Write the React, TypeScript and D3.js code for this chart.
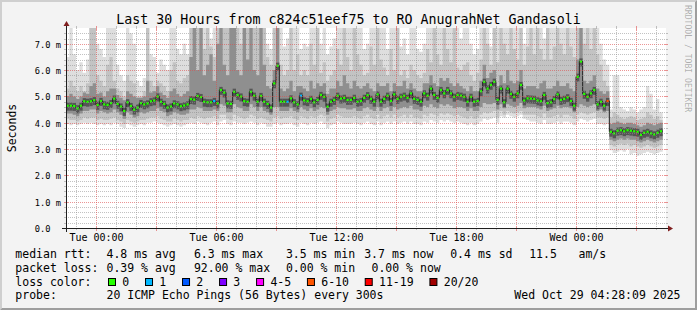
import React from 'react';
import * as d3 from 'd3';

// ---------- data ----------
const START = Date.UTC(2025, 9, 27, 22, 30); // Mon 22:30
const END = START + 30 * 3600e3; // Wed 04:30
const STEP_MS = 600e3; // 10 minutes per sample
const Y_MAX = 7.6; // ms

// median rtt per step (ms)
const medianRtt = [
  4.65, 4.65, 4.64, 4.55, 4.65, 4.82, 4.80, 4.82, 4.86, 4.68,
  4.83, 4.70, 4.68, 4.75, 4.92, 4.72, 4.62, 4.45, 4.78, 4.64,
  4.50, 4.58, 4.75, 4.70, 4.74, 4.82, 4.85, 5.00, 4.80, 4.72,
  4.58, 4.62, 4.74, 4.70, 4.63, 4.66, 4.70, 4.90, 4.88, 5.02,
  4.98, 4.80, 4.78, 4.78, 4.83, 4.74, 5.25, 5.15, 4.74, 4.72,
  5.18, 5.06, 5.00, 4.82, 4.80, 5.18, 5.03, 4.80, 5.02, 4.80,
  4.72, 4.58, 5.50, 6.17, 4.80, 4.80, 4.80, 4.93, 4.78, 4.70,
  5.03, 4.85, 4.82, 4.91, 4.78, 4.87, 5.06, 4.99, 4.61, 4.80,
  4.87, 5.03, 4.92, 4.95, 4.87, 4.87, 4.95, 4.80, 4.83, 4.95,
  5.05, 4.91, 4.80, 5.08, 4.80, 4.91, 5.03, 4.83, 5.08, 4.91,
  4.99, 5.03, 4.95, 5.12, 4.91, 4.87, 4.80, 5.12, 5.03, 5.30,
  5.06, 4.95, 5.25, 5.12, 5.25, 5.12, 4.99, 5.06, 5.03, 4.99,
  4.80, 4.99, 4.80, 4.83, 5.20, 5.56, 5.30, 5.44, 5.56, 4.87,
  5.30, 4.78, 5.30, 5.10, 4.99, 5.12, 5.44, 4.85, 4.93, 4.92,
  4.91, 4.85, 4.82, 5.06, 4.75, 4.78, 4.90, 5.08, 4.87, 4.91,
  4.97, 4.83, 4.65, 5.75, 6.33, 5.10, 4.99, 5.12, 5.25, 4.70,
  4.80, 4.65, 4.83, 3.66, 3.60, 3.70, 3.72, 3.68, 3.72, 3.70,
  3.68, 3.66, 3.54, 3.62, 3.66, 3.60, 3.56, 3.62, 3.68,
];

// slowest ping per step (top of the lightest smoke)
const smokeMax = [
  6.5, 7.8, 6.6, 6.0, 6.3, 5.9, 6.4, 7.8, 7.8, 7.0,
  6.8, 6.5, 7.8, 7.8, 7.6, 6.2, 5.8, 5.6, 7.8, 7.4,
  7.0, 5.6, 5.4, 5.7, 7.8, 6.6, 6.5, 5.9, 6.4, 6.2,
  6.0, 7.8, 7.8, 6.8, 6.6, 7.0, 6.6, 7.8, 7.8, 7.8,
  7.8, 7.8, 7.8, 7.2, 7.8, 7.8, 7.8, 7.8, 7.8, 7.8,
  7.8, 7.8, 7.8, 7.8, 7.8, 7.8, 7.8, 7.8, 7.8, 7.8,
  7.0, 6.8, 7.8, 7.8, 7.8, 6.9, 7.2, 7.8, 7.8, 7.8,
  6.8, 7.0, 6.9, 7.8, 7.8, 7.8, 7.0, 7.8, 6.6, 6.9,
  7.2, 7.8, 7.8, 7.8, 7.8, 7.8, 7.8, 7.8, 7.8, 6.8,
  7.0, 7.8, 7.8, 7.8, 7.8, 7.8, 6.8, 7.8, 7.8, 7.8,
  6.9, 7.2, 6.6, 7.8, 7.8, 6.8, 6.7, 7.0, 7.8, 7.8,
  7.8, 7.8, 7.8, 7.8, 7.8, 7.8, 7.8, 7.8, 7.2, 7.8,
  7.8, 7.0, 6.6, 6.8, 7.8, 7.8, 7.8, 6.9, 7.8, 7.8,
  7.8, 7.8, 7.8, 7.8, 7.8, 7.8, 7.8, 7.0, 7.8, 7.8,
  7.8, 7.8, 7.8, 7.2, 7.8, 7.8, 7.8, 7.8, 7.8, 7.8,
  7.8, 7.8, 7.8, 7.8, 7.8, 7.8, 7.8, 7.8, 7.8, 7.8,
  7.0, 6.4, 6.2, 4.5, 5.8, 5.8, 4.6, 4.5, 4.45, 4.6,
  4.5, 4.4, 4.5, 4.6, 5.4, 5.1, 4.5, 4.9, 4.4,
];

// upper edge of the mid-grey smoke
const smokeHi = [
  5.3, 5.6, 5.4, 5.2, 5.4, 5.2, 5.5, 7.8, 7.8, 5.8,
  5.6, 5.4, 6.2, 6.5, 5.6, 5.3, 5.2, 5.0, 5.8, 5.6,
  5.5, 5.0, 5.0, 5.2, 7.8, 5.6, 5.4, 5.6, 5.5, 5.4,
  5.2, 6.0, 6.3, 5.6, 5.5, 5.7, 5.8, 7.8, 7.8, 7.8,
  7.8, 6.8, 7.8, 6.9, 6.5, 7.8, 7.8, 7.8, 7.8, 7.8,
  7.8, 7.8, 7.0, 7.8, 7.8, 7.8, 7.8, 7.8, 7.8, 7.8,
  6.5, 6.2, 7.8, 7.8, 6.2, 5.8, 6.0, 7.8, 6.0, 6.6,
  5.8, 6.0, 5.8, 7.0, 6.2, 7.8, 5.9, 6.3, 5.6, 5.8,
  6.0, 6.8, 6.2, 7.8, 6.5, 6.0, 7.8, 6.6, 6.2, 5.8,
  5.9, 6.9, 6.2, 7.8, 6.4, 6.1, 5.8, 6.8, 6.0, 7.8,
  5.8, 6.0, 5.7, 6.2, 6.0, 5.8, 5.7, 5.9, 6.8, 6.3,
  7.8, 6.6, 6.2, 7.8, 6.8, 6.3, 7.8, 6.1, 6.0, 6.2,
  6.3, 5.8, 5.6, 5.9, 6.4, 7.8, 7.0, 6.2, 7.8, 6.3,
  7.8, 7.0, 6.6, 7.8, 6.8, 6.4, 7.8, 6.2, 6.9, 7.8,
  6.6, 7.8, 6.8, 6.4, 7.8, 6.4, 6.9, 7.8, 7.0, 6.6,
  7.8, 6.9, 6.5, 7.8, 7.8, 7.0, 7.8, 6.8, 7.8, 6.6,
  6.2, 5.6, 5.4, 4.2, 4.4, 4.3, 4.2, 4.15, 4.2, 4.25,
  4.2, 4.1, 4.15, 4.2, 4.4, 4.3, 4.15, 4.25, 4.1,
];

// upper edge of the dark core
const coreHi = [
  5.0, 5.1, 5.0, 4.9, 5.0, 5.15, 5.1, 5.4, 5.5, 5.1,
  5.15, 5.0, 5.2, 5.3, 5.3, 5.05, 4.95, 4.85, 5.2, 5.1,
  5.0, 4.95, 4.95, 5.0, 5.6, 5.15, 5.2, 5.4, 5.15, 5.05,
  4.95, 5.2, 5.3, 5.1, 5.0, 5.1, 5.2, 6.5, 7.8, 6.0,
  7.8, 5.8, 6.2, 6.6, 5.6, 7.0, 7.8, 6.2, 5.8, 7.8,
  7.8, 6.0, 5.8, 7.8, 6.4, 7.8, 6.0, 5.8, 7.8, 6.2,
  5.4, 5.3, 6.0, 7.8, 5.3, 5.2, 5.3, 5.6, 5.2, 5.4,
  5.4, 5.3, 5.2, 5.6, 5.3, 5.5, 5.4, 5.5, 5.1, 5.3,
  5.3, 5.6, 5.4, 5.8, 5.5, 5.3, 5.6, 5.4, 5.3, 5.4,
  5.5, 5.3, 5.2, 5.5, 5.4, 5.4, 5.5, 5.2, 5.5, 5.4,
  5.4, 5.6, 5.3, 5.5, 5.3, 5.2, 5.2, 5.5, 5.5, 5.8,
  5.5, 5.4, 5.7, 5.6, 5.7, 5.5, 5.4, 5.5, 5.4, 5.3,
  5.2, 5.4, 5.2, 5.2, 5.6, 6.2, 5.7, 5.9, 6.0, 5.4,
  5.8, 5.5, 6.0, 5.6, 5.5, 5.6, 6.0, 5.3, 5.4, 5.4,
  5.4, 5.3, 5.5, 5.6, 5.3, 5.3, 5.4, 5.6, 5.4, 5.4,
  5.5, 5.3, 5.2, 6.4, 7.8, 5.6, 5.5, 5.6, 5.8, 5.3,
  5.2, 5.1, 5.2, 3.95, 4.0, 4.05, 4.0, 3.95, 4.0, 4.0,
  3.95, 3.9, 3.85, 3.9, 4.0, 3.95, 3.9, 3.95, 4.0,
];

// lower edge of the dark core
const coreLo = [
  4.35, 4.35, 4.3, 4.25, 4.35, 4.45, 4.45, 4.5, 4.5, 4.35,
  4.45, 4.4, 4.35, 4.4, 4.5, 4.4, 4.3, 4.15, 4.4, 4.3,
  4.2, 4.25, 4.4, 4.35, 4.4, 4.45, 4.45, 4.55, 4.45, 4.4,
  4.25, 4.3, 4.4, 4.35, 4.3, 4.3, 4.35, 4.5, 4.5, 4.6,
  4.55, 4.45, 4.45, 4.45, 4.5, 4.45, 4.7, 4.65, 4.4, 4.4,
  4.7, 4.6, 4.55, 4.45, 4.45, 4.7, 4.6, 4.45, 4.6, 4.45,
  4.4, 4.3, 4.6, 4.6, 4.45, 4.45, 4.45, 4.55, 4.45, 4.4,
  4.6, 4.5, 4.45, 4.55, 4.45, 4.5, 4.6, 4.55, 4.3, 4.45,
  4.5, 4.6, 4.55, 4.55, 4.5, 4.5, 4.55, 4.45, 4.45, 4.55,
  4.6, 4.5, 4.45, 4.6, 4.45, 4.55, 4.6, 4.45, 4.6, 4.5,
  4.55, 4.6, 4.55, 4.65, 4.5, 4.5, 4.45, 4.65, 4.6, 4.7,
  4.6, 4.55, 4.7, 4.65, 4.7, 4.65, 4.55, 4.6, 4.6, 4.55,
  4.45, 4.55, 4.45, 4.45, 4.6, 4.75, 4.7, 4.7, 4.75, 4.5,
  4.7, 4.55, 4.7, 4.65, 4.6, 4.65, 4.75, 4.55, 4.6, 4.6,
  4.6, 4.55, 4.5, 4.65, 4.45, 4.5, 4.55, 4.65, 4.55, 4.6,
  4.6, 4.55, 4.4, 4.6, 4.7, 4.65, 4.6, 4.65, 4.7, 4.45,
  4.5, 4.4, 4.45, 3.35, 3.3, 3.35, 3.4, 3.35, 3.4, 3.35,
  3.35, 3.3, 3.25, 3.3, 3.35, 3.3, 3.25, 3.3, 3.35,
];

// lower edge of the mid-grey smoke
const smokeLo = [
  4.15, 4.1, 4.1, 4.05, 4.1, 4.2, 4.15, 4.2, 4.2, 4.1,
  4.15, 4.1, 4.1, 4.15, 4.2, 4.1, 4.05, 3.95, 4.1, 4.05,
  4.0, 4.05, 4.1, 4.1, 4.15, 4.2, 4.2, 4.25, 4.15, 4.1,
  4.05, 4.05, 4.15, 4.1, 4.05, 4.1, 4.1, 4.2, 4.15, 4.25,
  4.2, 4.15, 4.2, 4.2, 4.25, 4.15, 4.3, 4.3, 4.15, 4.1,
  4.3, 4.25, 4.2, 4.15, 4.2, 4.3, 4.25, 4.15, 4.2, 4.15,
  4.1, 4.05, 4.2, 4.25, 4.15, 4.2, 4.2, 4.25, 4.15, 4.1,
  4.25, 4.2, 4.15, 4.25, 4.2, 4.25, 4.3, 4.25, 4.05, 4.15,
  4.2, 4.3, 4.25, 4.2, 4.2, 4.2, 4.25, 4.2, 4.15, 4.25,
  4.3, 4.2, 4.15, 4.3, 4.15, 4.25, 4.3, 4.2, 4.3, 4.2,
  4.25, 4.3, 4.2, 4.3, 4.2, 4.2, 4.15, 4.3, 4.25, 4.35,
  4.3, 4.25, 4.35, 4.3, 4.35, 4.3, 4.25, 4.3, 4.25, 4.2,
  4.15, 4.25, 4.15, 4.2, 4.3, 4.4, 4.35, 4.4, 4.45, 4.2,
  4.45, 4.3, 4.45, 4.4, 4.35, 4.4, 4.45, 4.3, 4.3, 4.3,
  4.3, 4.25, 4.2, 4.35, 4.2, 4.2, 4.25, 4.3, 4.2, 4.3,
  4.3, 4.25, 4.15, 4.3, 4.4, 4.35, 4.3, 4.35, 4.4, 4.2,
  4.2, 4.15, 4.2, 3.15, 3.1, 3.15, 3.2, 3.15, 3.2, 3.1,
  3.15, 3.1, 3.05, 3.1, 3.15, 3.1, 3.05, 3.1, 3.15,
];

// fastest ping per step (bottom of the lightest smoke)
const smokeMin = [
  3.95, 3.9, 3.95, 3.9, 3.95, 4.0, 3.95, 4.0, 3.95, 3.9,
  3.95, 3.9, 3.95, 3.9, 4.0, 3.95, 3.85, 3.8, 3.95, 3.9,
  3.85, 3.9, 3.95, 3.9, 4.0, 4.0, 4.05, 4.0, 3.95, 3.9,
  3.85, 3.9, 3.95, 3.9, 3.85, 3.9, 3.95, 4.0, 3.95, 4.05,
  4.0, 3.95, 3.9, 4.0, 4.05, 3.9, 4.05, 4.1, 3.95, 3.9,
  4.05, 4.0, 4.0, 3.95, 4.0, 4.05, 4.0, 3.9, 4.0, 3.95,
  3.85, 3.85, 3.95, 4.0, 3.9, 3.95, 3.95, 4.0, 3.9, 3.85,
  4.0, 3.95, 3.9, 4.0, 3.95, 4.0, 4.05, 3.95, 3.8, 3.9,
  3.95, 4.05, 4.0, 3.95, 3.95, 3.95, 4.0, 3.95, 3.9, 4.0,
  4.05, 3.95, 3.9, 4.05, 3.9, 4.0, 4.05, 3.95, 4.05, 3.95,
  4.0, 4.05, 3.95, 4.05, 3.95, 3.95, 3.9, 4.05, 4.0, 4.1,
  4.05, 4.0, 4.1, 4.05, 4.1, 4.05, 4.0, 4.05, 4.0, 3.95,
  3.9, 4.0, 3.9, 3.95, 4.05, 4.15, 4.1, 4.15, 4.2, 4.0,
  4.25, 4.2, 4.3, 4.25, 4.2, 4.25, 4.3, 4.15, 4.1, 4.05,
  4.05, 4.0, 3.95, 4.1, 3.95, 3.95, 4.0, 4.05, 3.95, 4.05,
  4.05, 4.0, 3.9, 4.05, 4.15, 4.1, 4.05, 4.1, 4.15, 3.95,
  3.95, 3.9, 3.95, 2.95, 2.85, 2.9, 2.95, 2.9, 3.0, 2.8,
  2.85, 2.75, 2.8, 2.85, 2.9, 2.85, 2.8, 2.85, 2.9,
];

// lost pings (of 20) per step
const lostPings = [
  0, 0, 0, 0, 0, 0, 0, 0, 0, 0,
  0, 0, 0, 0, 0, 0, 0, 0, 0, 0,
  0, 0, 0, 0, 0, 0, 0, 0, 0, 0,
  0, 0, 0, 0, 0, 0, 0, 0, 0, 0,
  0, 0, 0, 0, 1, 0, 0, 0, 0, 0,
  0, 0, 0, 0, 0, 0, 0, 0, 0, 0,
  0, 0, 0, 0, 0, 0, 1, 0, 0, 0,
  1, 0, 0, 0, 0, 0, 0, 0, 0, 0,
  0, 0, 0, 0, 0, 0, 0, 0, 0, 0,
  0, 0, 0, 0, 0, 0, 0, 0, 0, 0,
  0, 0, 0, 0, 0, 0, 0, 0, 0, 0,
  0, 0, 0, 0, 0, 0, 0, 0, 0, 0,
  0, 0, 0, 0, 0, 0, 0, 0, 0, 0,
  0, 0, 0, 0, 0, 0, 0, 0, 0, 0,
  0, 0, 0, 0, 0, 0, 0, 0, 0, 0,
  0, 0, 0, 0, 0, 0, 0, 0, 0, 0,
  0, 0, 7, 0, 0, 0, 0, 0, 0, 0,
  0, 0, 0, 0, 0, 0, 0, 0, 0,
];

const yTickValues = [0, 1, 2, 3, 4, 5, 6, 7];
const yTickLabels = ['0.0', '1.0 m', '2.0 m', '3.0 m', '4.0 m', '5.0 m', '6.0 m', '7.0 m'];

const titleText = 'Last 30 Hours from c824c51eef75 to RO AnugrahNet Gandasoli';
const yAxisTitle = 'Seconds';
const watermarkText = 'RRDTOOL / TOBI OETIKER';

const medianHeader = 'median rtt:';
const medianStats = ['4.8 ms avg', '6.3 ms max', '3.5 ms min', '3.7 ms now', '0.4 ms sd', '11.5', 'am/s'];
const lossHeader = 'packet loss:';
const lossStats = ['0.39 % avg', '92.00 % max', '0.00 % min', '0.00 % now'];
const lossColorHeader = 'loss color:';
const lossColorLabels = ['0', '1', '2', '3', '4-5', '6-10', '11-19', '20/20'];
const lossColorThresholds = [0, 1, 2, 3, 4, 6, 11, 20];
const lossColorValues = ['#26ff00', '#00b8ff', '#0059ff', '#7e00ff', '#ff00ff', '#ff5500', '#ff0000', '#a10000'];
const probeHeader = 'probe:';
const probeText = '20 ICMP Echo Pings (56 Bytes) every 300s';
const dateText = 'Wed Oct 29 04:28:09 2025';

// ---------- component ----------
const FONT = 'DejaVu Sans Mono, monospace';

export default function App() {
  const W = 697;
  const H = 310;
  const X0 = 66;
  const X1 = 666;
  const Y0 = 228;
  const Y1 = 28;

  const xs = d3.scaleUtc().domain([new Date(START), new Date(END)]).range([X0, X1]);
  const ys = d3.scaleLinear().domain([0, Y_MAX]).range([Y0, Y1]);

  const n = medianRtt.length;
  const idx = d3.range(n + 1);
  const tx = (i: number) => xs(new Date(START + i * STEP_MS));
  const at = (arr: number[], i: number) => arr[Math.min(i, n - 1)];

  const band = (lo: number[], hi: number[]) =>
    d3
      .area<number>()
      .x((i) => tx(i))
      .y0((i) => ys(at(lo, i)))
      .y1((i) => ys(at(hi, i)))
      .curve(d3.curveStepAfter)(idx) || '';

  const medianPath =
    d3
      .line<number>()
      .x((i) => tx(i))
      .y((i) => ys(at(medianRtt, i)))
      .curve(d3.curveStepAfter)(idx) || '';

  const lossColor = (lost: number) => {
    let c = lossColorValues[0];
    lossColorThresholds.forEach((t, k) => {
      if (lost >= t) c = lossColorValues[k];
    });
    return c;
  };

  // grid
  const hours = d3.utcHour.every(1)!.range(new Date(START), new Date(END + 1));
  const px = (v: number) => Math.round(v) + 0.5;
  const hVals = d3.range(1, 38).map((k) => k * 0.2);
  const isInt = (v: number) => Math.abs(v - Math.round(v)) < 1e-6;
  const fmt = d3.utcFormat('%a %H:%M');

  const gridGrey = 'rgba(143,143,143,0.55)';
  const gridRed = 'rgba(222,79,79,0.6)';

  // legend layout
  const CW = 6.92;
  const LX = 15.3;
  const medianX = [106.5, 193.9, 285.9, 364.2, 450.2, 529.2, 578.5];
  const lossX = [106.5, 193.9, 285.9, 371.5];
  const lossItems: { x: number; label: string; color: string }[] = [];
  {
    let x = 108;
    lossColorLabels.forEach((lab, k) => {
      lossItems.push({ x, label: lab, color: lossColorValues[k] });
      x = x + 15 + lab.length * CW + 15.1;
    });
  }

  return (
    <svg
      width={W}
      height={H}
      viewBox={`0 0 ${W} ${H}`}
      style={{ position: 'absolute', left: 0, top: 0, display: 'block' }}
      fontFamily={FONT}
    >
      <defs>
        <clipPath id="plotClip">
          <rect x={X0} y={Y1} width={X1 - X0} height={Y0 - Y1} />
        </clipPath>
      </defs>
      <rect x={0} y={0} width={W} height={H} fill="#f3f3f3" />
      {/* 3d frame */}
      <polygon points={`0,${H} 2,${H - 2} 2,2 ${W - 2},2 ${W},0 0,0`} fill="#cfcfcf" />
      <polygon points={`2,${H - 2} ${W - 2},${H - 2} ${W - 2},2 ${W},0 ${W},${H} 0,${H}`} fill="#9e9e9e" />

      {/* canvas */}
      <rect x={X0} y={Y1} width={X1 - X0} height={Y0 - Y1} fill="#ffffff" />

      {/* smoke */}
      <g clipPath="url(#plotClip)">
        <path d={band(smokeMin, smokeMax)} fill="#dedede" />
        <path d={band(smokeLo, smokeHi)} fill="#c3c3c3" />
        <path d={band(coreLo, coreHi)} fill="#8f8f8f" />
        {medianRtt.map((m, i) => (
          <rect
            key={'c' + i}
            x={tx(i)}
            y={ys(m) - 3}
            width={tx(i + 1) - tx(i)}
            height={8}
            fill="#555555"
          />
        ))}
        <path d={medianPath} fill="none" stroke="#202020" strokeWidth={1} />
        {medianRtt.map((m, i) => (
          <rect
            key={'m' + i}
            x={tx(i) + 0.4}
            y={ys(m) - 1}
            width={tx(i + 1) - tx(i) - 1}
            height={2.2}
            fill={lossColor(lostPings[i])}
          />
        ))}
      </g>

      {/* horizontal grid */}
      {hVals.map((v, k) => {
        const y = px(ys(v));
        const major = isInt(v);
        const col = major ? gridRed : gridGrey;
        return (
          <g key={'h' + k}>
            <line x1={X0 + (major ? 2 : 0)} x2={X1 - (major ? 2 : 0)} y1={y} y2={y} stroke={col} strokeDasharray="1 1" />
            <line x1={X0 - 2} x2={X0 + (major ? 2 : 0)} y1={y} y2={y} stroke={col} />
            <line x1={X1 - (major ? 2 : 0)} x2={X1 + 2} y1={y} y2={y} stroke={col} />
          </g>
        );
      })}
      {/* vertical grid */}
      {hours.map((h, k) => {
        const x = px(xs(h));
        const major = h.getUTCHours() % 3 === 0;
        const col = major ? gridRed : gridGrey;
        return (
          <g key={'v' + k}>
            <line x1={x} x2={x} y1={Y1 + (major ? 2 : 0)} y2={Y0 - (major ? 2 : 0)} stroke={col} strokeDasharray="1 1" />
            <line x1={x} x2={x} y1={Y1 - 2} y2={Y1 + (major ? 2 : 0)} stroke={col} />
            <line x1={x} x2={x} y1={Y0 - (major ? 2 : 0)} y2={Y0 + (major ? 3 : 2)} stroke={col} />
          </g>
        );
      })}

      {/* axes */}
      <line x1={X0 - 4} x2={X1 + 4} y1={Y0 + 0.5} y2={Y0 + 0.5} stroke="#1f1f1f" />
      <line x1={X0 + 0.5} x2={X0 + 0.5} y1={Y0 + 4} y2={Y1 - 4} stroke="#1f1f1f" />
      <polygon points={`${X1 + 2},${Y0 - 2.5} ${X1 + 2},${Y0 + 3.5} ${X1 + 7},${Y0 + 0.5}`} fill="#801f1f" />
      <polygon points={`${X0 - 2.5},${Y1 - 2} ${X0 + 3.5},${Y1 - 2} ${X0 + 0.5},${Y1 - 7}`} fill="#801f1f" />

      {/* y labels */}
      {yTickValues.map((v, k) => (
        <text
          key={'yl' + k}
          x={v === 0 ? 61 - 2 * 5.25 : 61}
          y={px(ys(v)) + 3}
          fontSize={8.7}
          textAnchor="end"
          fill="#000"
        >
          {yTickLabels[k]}
        </text>
      ))}
      {/* x labels */}
      {hours
        .filter((h) => h.getUTCHours() % 6 === 0)
        .map((h, k) => (
          <text key={'xl' + k} x={px(xs(h))} y={241} fontSize={10} textAnchor="middle" fill="#000">
            {fmt(h)}
          </text>
        ))}

      {/* titles */}
      <text x={W / 2} y={24} fontSize={13.3} textAnchor="middle" fill="#000">
        {titleText}
      </text>
      <text transform="translate(15.5,128) rotate(-90)" fontSize={11.5} textAnchor="middle" fill="#000">
        {yAxisTitle}
      </text>
      <text transform="translate(685,5) rotate(90)" fontSize={8.1} fill="rgba(0,0,0,0.3)">
        {watermarkText}
      </text>

      {/* legend */}
      <g fontSize={11.5} fill="#000">
        <text x={LX} y={258.3}>{medianHeader}</text>
        {medianStats.map((s, k) => (
          <text key={'ms' + k} x={medianX[k]} y={258.3}>{s}</text>
        ))}
        <text x={LX} y={271.9}>{lossHeader}</text>
        {lossStats.map((s, k) => (
          <text key={'ls' + k} x={lossX[k]} y={271.9}>{s}</text>
        ))}
        <text x={LX} y={285.7}>{lossColorHeader}</text>
        {lossItems.map((it, k) => (
          <g key={'lc' + k}>
            <rect x={it.x + 0.5} y={278.5} width={7} height={7} fill={it.color} stroke="#000" strokeWidth={1} />
            <text x={it.x + 14.3} y={285.7}>{it.label}</text>
          </g>
        ))}
        <text x={LX} y={299.3}>{probeHeader}</text>
        <text x={106.5} y={299.3}>{probeText}</text>
        <text x={680.5} y={299.3} textAnchor="end">{dateText}</text>
      </g>
    </svg>
  );
}
